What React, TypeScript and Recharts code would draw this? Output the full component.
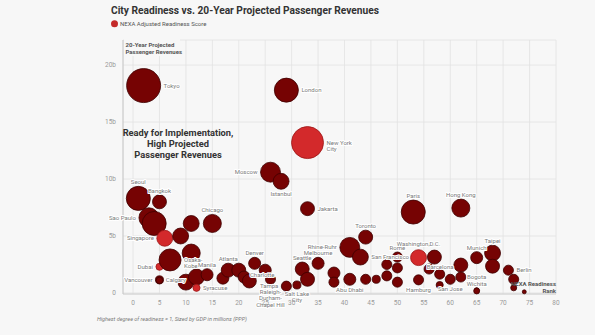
import { CartesianGrid, Scatter, ScatterChart, XAxis, YAxis, ZAxis } from "recharts";

// readiness rank (x), projected revenue in $b (y), GDP in $b PPP (bubble size)
const cityNames = [
  "Seoul", "Tokyo", "Sao Paulo", "", "Bangkok", "Dubai", "Vancouver", "Calgary", "Singapore", "Osaka-\nKobe",
  "", "", "", "", "", "Syracuse", "Manila", "Chicago", "", "Atlanta",
  "", "", "", "Denver", "Charlotte", "Raleigh-\nDurham-\nChapel Hill", "Moscow", "Istanbul", "Tampa", "London",
  "Salt Lake\nCity", "Seattle", "", "Jakarta", "New York\nCity", "Melbourne", "", "", "Rhine-Ruhr", "Abu Dhabi",
  "San Francisco", "Toronto", "", "", "", "", "Rome", "", "", "Paris",
  "Washington,D.C.", "Hamburg", "Barcelona", "", "", "", "San Jose", "", "", "Hong Kong",
  "Munich", "Bogota", "Wichita", "Taipei", "", "Berlin", "", "", ""
];
const readinessRank = [
  1, 2, 3, 4, 5, 5, 5, 5, 6, 7,
  9, 10, 11, 11, 12, 12, 14, 15, 17, 18,
  20, 21, 22, 23, 25, 26, 26, 28, 29, 29,
  31, 32, 33, 33, 33, 35, 38, 38, 41, 41,
  43, 44, 44, 46, 48, 48, 50, 50, 50, 53,
  54, 54, 56, 57, 58, 58, 60, 62, 62, 62,
  65, 65, 65, 68, 68, 71, 72, 72, 74
];
const revenueB = [
  8.3, 18.2, 6.6, 6.1, 8.0, 2.3, 1.15, 1.1, 4.8, 2.9,
  5.0, 0.95, 6.1, 3.5, 1.4, 0.45, 1.6, 6.1, 1.3, 2.0,
  2.0, 1.4, 1.05, 2.6, 2.0, 1.2, 10.6, 9.8, 0.6, 17.8,
  0.7, 2.1, 1.2, 7.4, 13.2, 2.6, 1.75, 0.95, 4.0, 1.2,
  3.15, 4.9, 1.2, 1.2, 2.5, 1.5, 3.15, 2.2, 0.95, 7.1,
  3.1, 1.15, 2.1, 3.15, 1.65, 0.7, 1.2, 2.45, 1.4, 7.45,
  3.1, 0.25, 0.18, 3.5, 2.35, 2.0, 1.2, 0.45, 0.1
];
const gdpB = [
  800, 1600, 550, 800, 270, 70, 90, 60, 350, 670,
  350, 350, 350, 450, 350, 70, 200, 450, 200, 270,
  270, 200, 270, 200, 200, 140, 550, 350, 140, 800,
  90, 270, 270, 270, 1420, 200, 200, 140, 550, 200,
  350, 270, 140, 90, 140, 140, 140, 140, 140, 800,
  350, 140, 140, 270, 140, 70, 140, 270, 140, 450,
  200, 30, 50, 350, 270, 140, 140, 50, 22
];
const highlighted = ["New York\nCity", "Singapore", "Washington,D.C.", "Dubai", "Syracuse"];

const xTicks = [0, 5, 10, 15, 20, 25, 30, 35, 40, 45, 50, 55, 60, 65, 70, 75, 80];
const yTicks = [0, 5, 10, 15, 20];

const data = cityNames.map((name, i) => ({
  name,
  rank: readinessRank[i],
  revenue: revenueB[i],
  gdp: gdpB[i],
  hi: highlighted.includes(name)
}));

// where each city's label sits: side, then pixel nudges
const labelPos: Record<string, [string, number?, number?]> = {
  Seoul: ["t"], Tokyo: ["r"], "Sao Paulo": ["l"], Bangkok: ["t"], Dubai: ["l"], Vancouver: ["l"],
  Calgary: ["r"], Singapore: ["l"], "Osaka-\nKobe": ["r"], Syracuse: ["r"], Manila: ["t"],
  Chicago: ["t"], Atlanta: ["t"], Denver: ["t"], Charlotte: ["c", -3, 5],
  "Raleigh-\nDurham-\nChapel Hill": ["b", 0, 3], Moscow: ["l"], Istanbul: ["b"], Tampa: ["l"],
  London: ["r"], "Salt Lake\nCity": ["b"], Seattle: ["t"], Jakarta: ["r"], "New York\nCity": ["r"],
  Melbourne: ["t"], "Rhine-Ruhr": ["l"], "Abu Dhabi": ["b"], "San Francisco": ["r"], Toronto: ["t"],
  Rome: ["t"], Paris: ["t"], "Washington,D.C.": ["t", 0, -2], Hamburg: ["b", 0, 1],
  Barcelona: ["c", 11, -2], "San Jose": ["b"], "Hong Kong": ["t"], Munich: ["t"], Bogota: ["t", 0, -7],
  Wichita: ["t"], Taipei: ["t"], Berlin: ["r"]
};

const BG = "#f7f7f7";
const DARK = "#760303";
const LIGHT = "#d3292b";
const FONT = "Roboto, sans-serif";

const Bubble = (props: any) => {
  const { cx, cy, width, payload } = props;
  return (
    <circle
      cx={cx}
      cy={cy}
      r={width / 2}
      fill={payload.hi ? LIGHT : DARK}
      stroke={payload.hi ? "#9c1616" : "#3d0000"}
      strokeWidth={0.8}
    />
  );
};

const CityLabel = (props: any) => {
  const { cx, cy, width, payload } = props;
  const name: string = payload.name;
  if (!name || !labelPos[name]) return <g />;
  const r = width / 2;
  const [side, dx = 0, dy = 0] = labelPos[name];
  const lines = name.split("\n");
  const lh = 6.5;
  let x = cx;
  let y = cy + 2;
  let anchor = "middle";
  if (side === "r") { x = cx + r + 3; anchor = "start"; }
  if (side === "l") { x = cx - r - 3; anchor = "end"; }
  if (side === "t") y = cy - r - 2 - (lines.length - 1) * lh;
  if (side === "b") y = cy + r + 6.5;
  return (
    <text
      x={x + dx}
      y={y + dy}
      textAnchor={anchor}
      fontSize={6}
      fontFamily={FONT}
      fill="#7a7a7a"
      stroke="#ffffff"
      strokeWidth={2}
      strokeLinejoin="round"
      paintOrder="stroke"
    >
      {lines.map((l, i) => (
        <tspan key={i} x={x + dx} dy={i === 0 ? 0 : lh}>
          {l}
        </tspan>
      ))}
    </text>
  );
};

export default function App() {
  return (
    <div style={{ position: "absolute", left: 0, top: 0, width: 595, height: 335, background: BG, fontFamily: FONT }}>
      <ScatterChart width={595} height={335} margin={{ top: 40, right: 39, bottom: 21, left: 83 }}>
        <CartesianGrid stroke="#e2e2e2" strokeWidth={0.8} />
        <XAxis
          type="number"
          dataKey="rank"
          domain={[-1.9, 80]}
          ticks={xTicks}
          interval={0}
          height={20}
          tickLine={false}
          tickSize={4}
          tickMargin={2}
          axisLine={{ stroke: "#cfcfcf" }}
          tick={{ fontSize: 6.5, fill: "#9a9a9a", fontFamily: FONT }}
        />
        <YAxis
          type="number"
          dataKey="revenue"
          domain={[-0.09, 22.2]}
          ticks={yTicks}
          interval={0}
          width={40}
          tickLine={false}
          tickSize={5}
          tickMargin={2}
          axisLine={{ stroke: "#c8c8c8" }}
          tickFormatter={(v: number) => (v === 0 ? "0" : `${v}b`)}
          tick={{ fontSize: 6.5, fill: "#9a9a9a", fontFamily: FONT }}
        />
        <ZAxis type="number" dataKey="gdp" domain={[0, 1600]} range={[0, 908]} />
        <Scatter data={data} shape={<Bubble />} isAnimationActive={false} />
        <Scatter data={data} shape={<CityLabel />} isAnimationActive={false} />
      </ScatterChart>
      <svg
        width={595}
        height={335}
        style={{ position: "absolute", left: 0, top: 0, pointerEvents: "none" }}
        fontFamily={FONT}
      >
        <text x={111} y={14} fontSize={10.2} fontWeight="bold" fill="#333">
          City Readiness vs. 20-Year Projected Passenger Revenues
        </text>
        <circle cx={114.5} cy={23.8} r={3.5} fill="#c42a2a" />
        <text x={120} y={26} fontSize={6} fill="#555">NEXA Adjusted Readiness Score</text>

        <rect x={124} y={38} width={56} height={18} fill={BG} />
        <text x={125.5} y={47} fontSize={6} fontWeight="bold" fill="#555">20-Year Projected</text>
        <text x={125.5} y={54} fontSize={6} fontWeight="bold" fill="#555">Passenger Revenues</text>

        <text x={178} y={135.5} fontSize={9.3} fontWeight="bold" fill="#333" textAnchor="middle">
          Ready for Implementation,
        </text>
        <text x={178} y={146.5} fontSize={9.3} fontWeight="bold" fill="#333" textAnchor="middle">
          High Projected
        </text>
        <text x={178} y={157.5} fontSize={9.3} fontWeight="bold" fill="#333" textAnchor="middle">
          Passenger Revenues
        </text>

        <text x={556} y={285.5} fontSize={6} fontWeight="bold" fill="#555" textAnchor="end">NEXA Readiness</text>
        <text x={556} y={292.5} fontSize={6} fontWeight="bold" fill="#555" textAnchor="end">Rank</text>

        <text x={97} y={321} fontSize={5.5} fontStyle="italic" fill="#777">
          Highest degree of readiness = 1, Sized by GDP in millions (PPP)
        </text>
      </svg>
    </div>
  );
}
